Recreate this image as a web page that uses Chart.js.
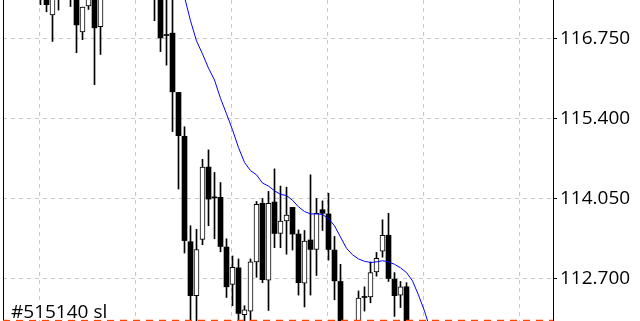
<!DOCTYPE html>
<html>
<head>
<meta charset="utf-8">
<script src="https://cdn.jsdelivr.net/npm/chart.js@4.4.0/dist/chart.umd.min.js"></script>
<style>
  html, body { margin: 0; padding: 0; background: #fff; overflow: hidden; }
  #wrap { width: 640px; height: 321px; position: relative; }
</style>
</head>
<body>
<div id="wrap"><canvas id="chart"></canvas></div>
<script>
// bar slots (one per candle), prices
const candleIdx = [6, 7, 8, 9, 11, 12, 13, 14, 15, 16,
    25, 26, 27, 28, 29, 30, 31, 32, 33, 34, 35, 36, 37, 38, 39, 40,
    41, 42, 43, 44, 45, 46, 47, 48, 49, 50, 51, 52, 53, 54, 55, 56,
    59, 60, 61, 62, 63, 64, 65, 66, 67];
const opens = [117.45, 117.52, 117.15, 117.45, 117.48, 117.44, 116.86, 117.30, 117.42, 116.95,
    117.55, 117.45, 116.80, 116.84, 115.84, 115.10, 113.32, 112.41, 113.36, 114.58, 114.06, 114.07, 113.23, 112.60, 112.88, 112.09,
    112.15, 112.98, 113.97, 112.67, 113.99, 113.46, 113.67, 113.90, 113.45, 112.62, 113.35, 113.19, 113.86, 113.79, 113.18, 112.65,
    111.92, 112.38, 112.39, 112.81, 113.16, 113.43, 112.69, 112.42, 112.56];
const highs = [117.65, 117.60, 117.55, 117.58, 117.60, 117.52, 117.28, 117.50, 117.50, 117.48,
    117.65, 117.55, 117.50, 117.45, 115.84, 115.26, 113.59, 113.53, 114.71, 114.87, 114.49, 114.32, 113.37, 113.08, 113.03, 112.24,
    113.03, 114.00, 114.05, 114.17, 114.55, 114.26, 114.24, 113.90, 113.52, 113.51, 114.45, 114.05, 114.01, 114.14, 113.41, 112.94,
    112.49, 112.56, 112.98, 113.14, 113.69, 113.80, 112.80, 112.65, 112.63];
const lows = [117.32, 117.20, 116.70, 117.23, 117.29, 116.51, 116.73, 117.24, 115.97, 116.48,
    117.05, 116.53, 116.30, 115.18, 114.21, 113.13, 111.90, 111.92, 113.27, 113.59, 113.37, 113.15, 112.38, 112.24, 111.95, 111.95,
    111.95, 112.72, 112.63, 112.16, 113.22, 113.22, 113.11, 113.18, 112.42, 112.22, 112.42, 112.75, 113.51, 113.01, 112.34, 111.80,
    111.85, 112.15, 112.29, 112.74, 113.06, 112.65, 112.06, 112.21, 111.85];
const closes = [117.50, 117.32, 117.45, 117.50, 117.44, 116.98, 117.28, 117.42, 116.93, 117.42,
    117.45, 116.76, 116.80, 115.85, 115.11, 113.34, 112.41, 113.19, 114.58, 114.04, 114.06, 113.24, 112.56, 112.89, 112.11, 112.17,
    112.98, 113.95, 112.68, 113.97, 113.46, 113.67, 113.77, 113.45, 112.63, 113.33, 113.19, 113.80, 113.80, 113.19, 112.66, 111.90,
    112.37, 112.38, 112.80, 113.04, 113.43, 112.70, 112.41, 112.56, 111.90];

// moving average
const maIdx = [30, 31, 32, 33, 34, 35, 36, 37, 38, 39, 40, 41, 42, 43, 44, 45, 46, 47, 48, 49, 50,
    51, 52, 53, 54, 55, 56, 57, 58, 59, 60, 61, 62, 63, 64, 65, 66, 67, 68, 69, 70, 71];
const maValues = [117.45, 117.05, 116.71, 116.49, 116.25, 116.05, 115.74, 115.48, 115.21, 114.91, 114.66,
    114.52, 114.45, 114.31, 114.26, 114.18, 114.12, 114.10, 114.02, 113.91, 113.83,
    113.79, 113.79, 113.78, 113.71, 113.59, 113.40, 113.21, 113.10, 113.03, 112.99,
    112.97, 112.98, 113.00, 112.98, 112.94, 112.88, 112.80, 112.66, 112.42, 112.15, 111.83];

// order level
const slLevel = 111.99;
const slLabel = '#515140 sl';

// axes
const priceTicks = [116.750, 115.400, 114.050, 112.700];
const priceMin = 111.9828;
const priceMax = 117.3997;
const slotMin = -0.25;
const slotMax = 91.4167;
const timeGrid = [5.833, 21.833, 37.833, 53.833, 69.833, 85.833];

const FONT = '"Open Sans", sans-serif';

const bodies = candleIdx.map((x, i) => ({ x: x, y: [opens[i], closes[i]] }));
const wicks = candleIdx.map((x, i) => ({ x: x, y: [lows[i], highs[i]] }));
const maLine = maIdx.map((x, i) => ({ x: x, y: maValues[i] }));
const slLine = [{ x: slotMin, y: slLevel }, { x: slotMax, y: slLevel }];

function isUp(ctx) {
    const i = ctx.dataIndex;
    return closes[i] > opens[i];
}

// white box + text above the sl line
const slLabelPlugin = {
    id: 'slLabel',
    afterDatasetsDraw(chart) {
        const ctx = chart.ctx;
        const area = chart.chartArea;
        const y = chart.scales.y.getPixelForValue(slLevel);
        ctx.save();
        ctx.font = '19px ' + FONT;
        const w = ctx.measureText(slLabel).width;
        ctx.fillStyle = '#ffffff';
        ctx.fillRect(area.left + 4, y - 20, w + 10, 19);
        ctx.fillStyle = '#000000';
        ctx.textBaseline = 'alphabetic';
        ctx.fillText(slLabel, area.left + 8, y - 2.5);
        ctx.restore();
    }
};

new Chart(document.getElementById('chart'), {
    type: 'bar',
    data: {
        datasets: [
            {
                type: 'line',
                yAxisID: 'y',
                data: maLine,
                borderColor: '#0000ff',
                borderWidth: 1,
                pointRadius: 0,
                tension: 0,
                order: 0
            },
            {
                type: 'line',
                yAxisID: 'y',
                data: slLine,
                borderColor: '#ff4500',
                borderWidth: 1.5,
                borderDash: [7, 6],
                pointRadius: 0,
                order: 1
            },
            {
                yAxisID: 'y',
                data: bodies,
                grouped: false,
                barThickness: 5,
                minBarLength: 1,
                borderWidth: ctx => isUp(ctx) ? 1 : 0,
                borderColor: '#000000',
                borderSkipped: false,
                backgroundColor: ctx => isUp(ctx) ? '#ffffff' : '#000000',
                order: 2
            },
            {
                yAxisID: 'y',
                data: wicks,
                grouped: false,
                barThickness: 1,
                backgroundColor: '#000000',
                borderWidth: 0,
                order: 3
            }
        ]
    },
    options: {
        responsive: true,
        maintainAspectRatio: false,
        animation: false,
        events: [],
        layout: { padding: 0 },
        plugins: {
            legend: { display: false },
            tooltip: { enabled: false }
        },
        scales: {
            x: {
                type: 'linear',
                min: slotMin,
                max: slotMax,
                offset: false,
                ticks: { display: false },
                grid: { color: '#c8c8c8', drawTicks: false, lineWidth: 1, offset: false },
                border: { display: false, dash: [4, 4] },
                afterBuildTicks: scale => { scale.ticks = timeGrid.map(v => ({ value: v })); },
                afterFit: scale => {
                    scale.height = 0;
                    scale.paddingLeft = 0;
                    scale.paddingRight = 0;
                }
            },
            yLeft: {
                position: 'left',
                min: 0,
                max: 1,
                ticks: { display: false },
                grid: { display: false },
                border: { display: true, color: '#000000', width: 1 },
                afterFit: scale => {
                    scale.width = 3;
                    scale.paddingTop = 0;
                    scale.paddingBottom = 0;
                }
            },
            y: {
                position: 'right',
                min: priceMin,
                max: priceMax,
                afterBuildTicks: scale => { scale.ticks = priceTicks.map(v => ({ value: v })); },
                ticks: {
                    color: '#000000',
                    padding: 3,
                    font: { family: FONT, size: 19 },
                    callback: v => Number(v).toFixed(3)
                },
                grid: {
                    color: '#c8c8c8',
                    tickLength: 4,
                    tickColor: '#000000',
                    tickBorderDash: [],
                    lineWidth: 1
                },
                border: { display: true, color: '#000000', width: 1, dash: [4, 4] },
                afterFit: scale => {
                    scale.width = 87;
                    scale.paddingTop = 0;
                    scale.paddingBottom = 0;
                }
            }
        }
    },
    plugins: [slLabelPlugin]
});
</script>
</body>
</html>
